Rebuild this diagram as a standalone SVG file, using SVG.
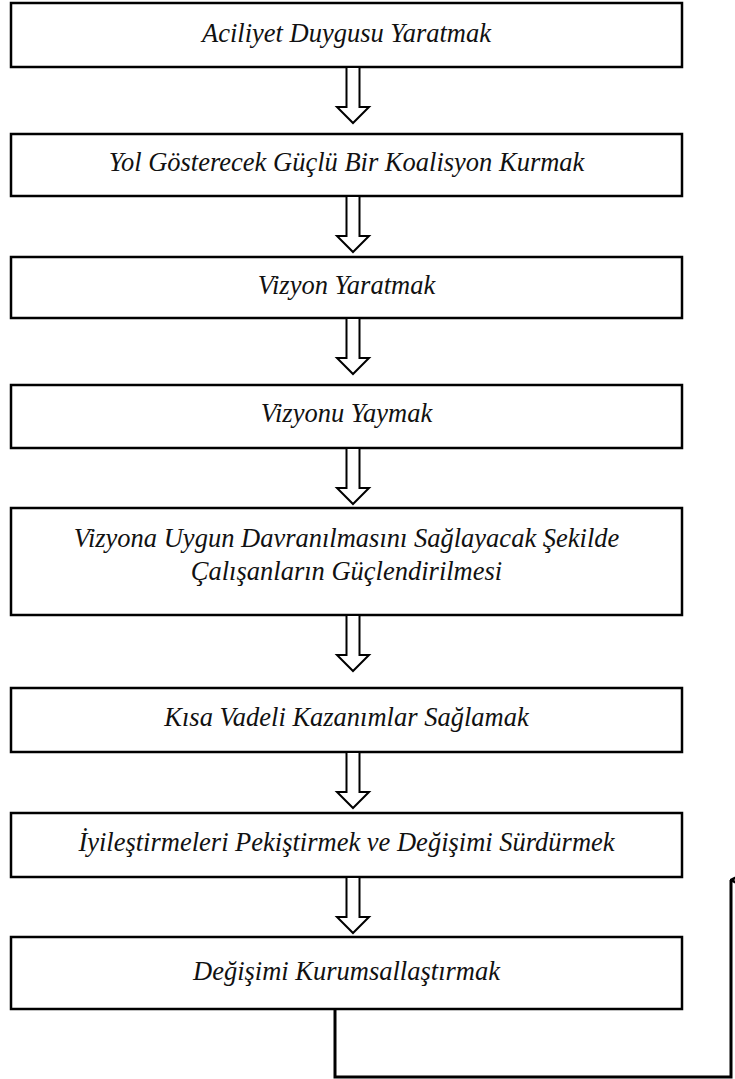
<svg xmlns="http://www.w3.org/2000/svg" width="735" height="1079" viewBox="0 0 735 1079">
  <style>
    .box { fill: #ffffff; stroke: #000000; stroke-width: 2.5; }
    .lbl { font-family: "Liberation Serif", "Times New Roman", serif; font-style: italic; font-size: 26.5px; fill: #111111; text-anchor: middle; }
    .blk { fill: #ffffff; stroke: #000000; stroke-width: 2; stroke-linejoin: miter; }
    .loop { fill: none; stroke: #000000; stroke-width: 3; }
  </style>
  <defs>
    <marker id="openHead" markerWidth="14" markerHeight="14" refX="7" refY="1" orient="auto" markerUnits="userSpaceOnUse" viewBox="0 0 14 14">
      <path d="M1,13 L7,1 L13,13" fill="none" stroke="#000" stroke-width="2.5"/>
    </marker>
    <!-- hollow block arrow pointing down, origin at top centre of the shaft -->
    <path id="blockArrow" d="M-6.5,0 L-6.5,40 L-16,40 L0,56 L16,40 L6.5,40 L6.5,0 Z"/>
  </defs>

  <rect width="735" height="1079" fill="#ffffff"/>

  <g id="n1">
    <rect class="box" x="11" y="3" width="671" height="64"/>
    <text class="lbl" x="346.5" y="42">Aciliyet Duygusu Yaratmak</text>
  </g>
  <g id="n2">
    <rect class="box" x="11" y="134" width="671" height="62"/>
    <text class="lbl" x="346.5" y="171">Yol Gösterecek Güçlü Bir Koalisyon Kurmak</text>
  </g>
  <g id="n3">
    <rect class="box" x="11" y="257" width="671" height="61"/>
    <text class="lbl" x="346.5" y="294">Vizyon Yaratmak</text>
  </g>
  <g id="n4">
    <rect class="box" x="11" y="385" width="671" height="63"/>
    <text class="lbl" x="346.5" y="422">Vizyonu Yaymak</text>
  </g>
  <g id="n5">
    <rect class="box" x="11" y="508" width="671" height="107"/>
    <text class="lbl" x="346.5" y="547">Vizyona Uygun Davranılmasını Sağlayacak Şekilde</text>
    <text class="lbl" x="346.5" y="580">Çalışanların Güçlendirilmesi</text>
  </g>
  <g id="n6">
    <rect class="box" x="11" y="688" width="671" height="64"/>
    <text class="lbl" x="346.5" y="726">Kısa Vadeli Kazanımlar Sağlamak</text>
  </g>
  <g id="n7">
    <rect class="box" x="11" y="813" width="671" height="64"/>
    <text class="lbl" x="346.5" y="851">İyileştirmeleri Pekiştirmek ve Değişimi Sürdürmek</text>
  </g>
  <g id="n8">
    <rect class="box" x="11" y="937" width="671" height="72"/>
    <text class="lbl" x="346.5" y="980">Değişimi Kurumsallaştırmak</text>
  </g>

  <g id="connectors">
    <use href="#blockArrow" class="blk" x="353" y="67"/>
    <use href="#blockArrow" class="blk" x="353" y="196"/>
    <use href="#blockArrow" class="blk" x="353" y="318"/>
    <use href="#blockArrow" class="blk" x="353" y="448"/>
    <use href="#blockArrow" class="blk" x="353" y="615"/>
    <use href="#blockArrow" class="blk" x="353" y="752"/>
    <use href="#blockArrow" class="blk" x="353" y="877"/>
    <path class="loop" d="M335,1009 L335,1077 L731,1077 L731,880" marker-end="url(#openHead)"/>
  </g>
</svg>
